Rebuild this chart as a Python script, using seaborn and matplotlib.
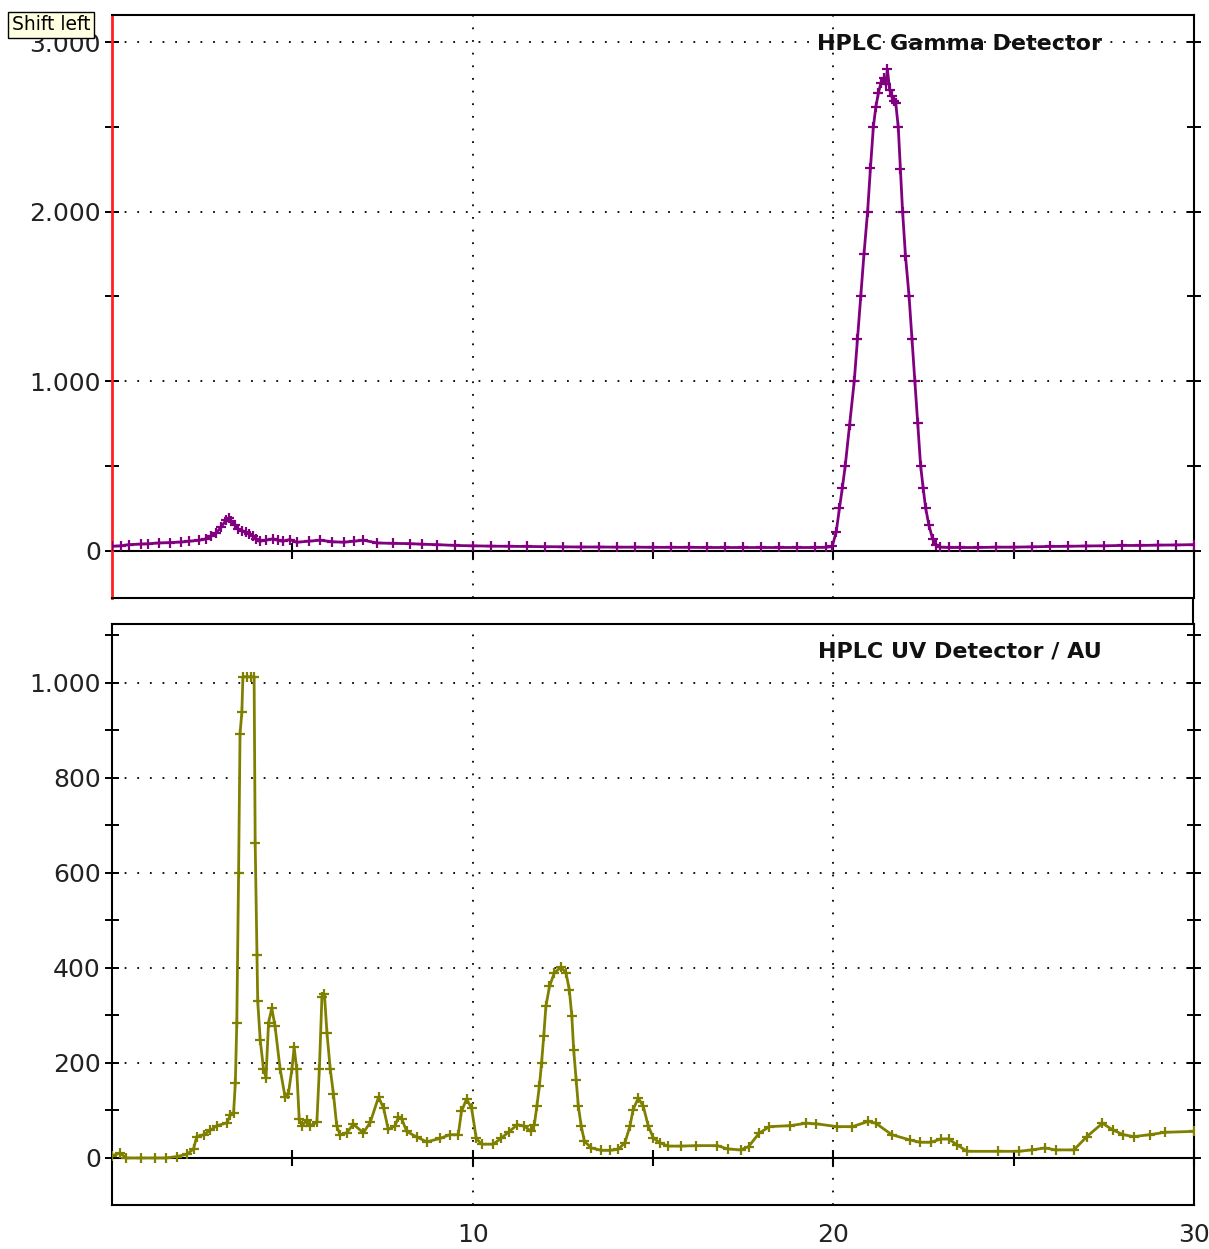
import matplotlib
matplotlib.use("Agg")
import matplotlib.pyplot as plt
import seaborn as sns
import pandas as pd
from matplotlib.ticker import FixedLocator, FuncFormatter
from matplotlib.lines import Line2D

# ---------------- data ----------------
gamma_time = [0.0, 0.25, 0.47, 0.8, 1.0, 1.31, 1.6, 1.9, 2.14, 2.4, 2.61, 2.75, 2.89, 3.03, 3.17,
              3.24, 3.31, 3.4, 3.49, 3.6, 3.72, 3.81, 3.91, 4.0, 4.09, 4.28, 4.47, 4.6, 4.74,
              4.93, 5.12, 5.45, 5.77, 6.1, 6.42, 6.7, 6.97, 7.35, 7.8, 8.27, 8.6, 9.02, 9.5,
              10.0, 10.5, 11.0, 11.5, 12.0, 12.5, 13.0, 13.5, 14.0, 14.5, 15.0, 15.5, 16.0,
              16.5, 17.0, 17.5, 18.0, 18.5, 19.0, 19.5, 19.8, 19.97, 20.08, 20.17, 20.25,
              20.33, 20.45, 20.58, 20.67, 20.76, 20.85, 20.95, 21.03, 21.11, 21.18, 21.25,
              21.32, 21.4, 21.45, 21.5, 21.56, 21.62, 21.68, 21.73, 21.8, 21.86, 21.92,
              22.0, 22.1, 22.18, 22.26, 22.34, 22.42, 22.49, 22.56, 22.65, 22.75, 22.85,
              22.95, 23.2, 23.5, 24.0, 24.5, 25.0, 25.5, 26.0, 26.5, 27.0, 27.5, 28.0, 28.5,
              29.0, 29.5, 30.0]
gamma_counts = [25, 28, 35, 38, 40, 45, 47, 50, 55, 60, 69, 85, 104, 140, 182,
                190, 173, 150, 127, 118, 108, 100, 84, 70, 55, 62, 69, 60, 55,
                65, 49, 55, 61, 52, 49, 55, 61, 45, 42, 41, 37, 35, 30,
                28, 26, 25, 24, 23, 22, 21, 21, 20, 20, 19, 19, 19,
                18, 18, 18, 18, 18, 18, 18, 19, 25, 110, 250, 370,
                500, 740, 1000, 1250, 1500, 1750, 2000, 2260, 2500, 2620, 2700,
                2760, 2790, 2750, 2840, 2720, 2680, 2650, 2640, 2500, 2250, 2000,
                1740, 1500, 1250, 1000, 750, 500, 370, 250, 150, 70, 35,
                20, 18, 18, 18, 20, 20, 22, 24, 25, 27, 28, 30, 30,
                32, 33, 35]

uv_time = [0.0, 0.23, 0.4, 0.8, 1.2, 1.5, 1.8, 2.08, 2.26, 2.35, 2.54, 2.72, 2.91, 3.19,
           3.28, 3.37, 3.42, 3.46, 3.51, 3.55, 3.6, 3.63, 3.75, 3.85, 3.94, 3.97, 4.02,
           4.04, 4.11, 4.2, 4.27, 4.34, 4.43, 4.52, 4.66, 4.8, 4.89, 4.99, 5.05, 5.12,
           5.19, 5.26, 5.4, 5.49, 5.68, 5.75, 5.82, 5.89, 5.96, 6.05, 6.14, 6.23, 6.32,
           6.51, 6.69, 6.97, 7.16, 7.39, 7.53, 7.66, 7.85, 7.94, 8.03, 8.17, 8.45, 8.73,
           9.09, 9.37, 9.6, 9.69, 9.83, 9.97, 10.1, 10.25, 10.57, 10.78, 11.0, 11.24,
           11.43, 11.62, 11.71, 11.78, 11.85, 11.91, 11.97, 12.03, 12.13, 12.26, 12.45,
           12.59, 12.68, 12.75, 12.8, 12.87, 12.93, 13.01, 13.1, 13.29, 13.57, 13.8,
           14.03, 14.22, 14.36, 14.45, 14.59, 14.73, 14.87, 15.01, 15.19, 15.42, 15.79,
           16.2, 16.78, 17.07, 17.43, 17.65, 17.94, 18.23, 18.8, 19.24, 19.52, 20.1,
           20.53, 20.97, 21.18, 21.62, 22.12, 22.41, 22.7, 22.99, 23.2, 23.42, 23.71,
           24.57, 25.15, 25.5, 25.87, 26.16, 26.67, 27.03, 27.46, 27.75, 28.04, 28.33,
           28.77, 29.2, 30.0]
uv_au = [5, 10, 0, 0, 0, 0, 3, 8, 19, 45, 49, 58, 68, 74,
         90, 94, 158, 285, 600, 893, 938, 1013, 1013, 1013, 1013, 664, 428,
         330, 248, 188, 169, 285, 315, 278, 188, 128, 135, 188, 233, 188,
         83, 68, 79, 68, 75, 188, 338, 345, 263, 188, 135, 68, 49,
         53, 71, 53, 75, 128, 105, 60, 68, 86, 83, 56, 44, 34,
         41, 49, 49, 98, 124, 105, 41, 29, 29, 41, 55, 70,
         67, 56, 70, 109, 151, 200, 256, 319, 361, 389, 402,
         389, 354, 298, 228, 165, 109, 67, 35, 21, 16, 16,
         18, 32, 67, 102, 126, 109, 67, 42, 32, 25, 25,
         26, 26, 19, 17, 24, 52, 66, 68, 73, 72, 66,
         66, 77, 73, 49, 38, 33, 33, 40, 40, 28, 14,
         14, 14, 17, 21, 17, 17, 45, 73, 59, 49, 45,
         49, 54, 56]

gamma_yticks = [0, 1000, 2000, 3000]
uv_yticks = [0, 200, 400, 600, 800, 1000]
x_ticks = [10, 20, 30]
panel_titles = ["HPLC Gamma Detector", "HPLC UV Detector / AU"]

# ---------------- styling ----------------
sns.set_style("white")
plt.rcParams["font.family"] = ["DejaVu Sans"]

W, H = 1209, 1249
fig = plt.figure(figsize=(W / 100, H / 100), dpi=100)

def frac(l, t, r, b):
    return [l / W, 1 - b / H, (r - l) / W, (b - t) / H]

ax1 = fig.add_axes(frac(112, 15, 1194, 598))
ax2 = fig.add_axes(frac(112, 624, 1194, 1205))

gdf = pd.DataFrame({"t": gamma_time, "v": gamma_counts})
udf = pd.DataFrame({"t": uv_time, "v": uv_au})

GAMMA_C = "#800080"
UV_C = "#808000"
line_kw = dict(marker="+", markersize=7, markeredgewidth=1.6, linewidth=2.0,
               sort=False, errorbar=None, estimator=None, legend=False)
sns.lineplot(data=gdf, x="t", y="v", ax=ax1, color=GAMMA_C, markeredgecolor=GAMMA_C,
             markerfacecolor=GAMMA_C, zorder=3, **line_kw)
sns.lineplot(data=udf, x="t", y="v", ax=ax2, color=UV_C, markeredgecolor=UV_C,
             markerfacecolor=UV_C, zorder=3, **line_kw)

fmt = FuncFormatter(lambda v, p: f"{int(round(v)):,}".replace(",", "."))

setups = [
    (ax1, (-280, 3160), gamma_yticks, 500),
    (ax2, (-99, 1124), uv_yticks, 100),
]
dot = (0, (1, 6))
for i, (ax, ylim, yt, minor_step) in enumerate(setups):
    ax.set_xlim(0, 30)
    ax.set_ylim(*ylim)
    ax.set_xlabel("")
    ax.set_ylabel("")
    ax.yaxis.set_major_locator(FixedLocator(yt))
    minors = [v for v in range(0, int(ylim[1]) + 1, minor_step) if v not in yt]
    ax.yaxis.set_minor_locator(FixedLocator(minors))
    ax.yaxis.set_major_formatter(fmt)
    ax.set_xticks(x_ticks)
    ax.tick_params(axis="y", which="both", direction="inout", length=10, width=1.4,
                   left=True, right=True, labelleft=True, labelsize=18, colors="black",
                   labelcolor="#222222", pad=3)
    ax.tick_params(axis="x", which="both", length=0, labelsize=18, labelcolor="#222222",
                   pad=13, labelbottom=(i == 1))
    # grid
    for v in yt[1:]:
        ax.axhline(v, color="black", linewidth=1.3, linestyle=dot, zorder=1)
    for v in x_ticks:
        ax.axvline(v, color="black", linewidth=1.3, linestyle=dot, zorder=1)
    for s in ax.spines.values():
        s.set_color("black")
        s.set_linewidth(1.5)
        s.set_visible(True)
    # zero line with its ticks
    loc = -ylim[0] / (ylim[1] - ylim[0])
    sec = ax.secondary_xaxis(loc)
    sec.set_xticks([5, 10, 15, 20, 25, 30])
    sec.set_xticklabels([])
    sec.tick_params(axis="x", direction="inout", length=12, width=1.5, colors="black")
    for name, s in sec.spines.items():
        s.set_linewidth(1.5)
        s.set_color("black")
    ax.text(0.915, 0.95 if i == 0 else 0.952, panel_titles[i], transform=ax.transAxes,
            ha="right", va="center", fontsize=16, fontweight="bold", color="#111111",
            zorder=5)

ax1.spines["left"].set_color("#ff2020")
ax1.spines["left"].set_linewidth(2)

# right edge line spanning the gap between panels
fig.add_artist(Line2D([1193 / W, 1193 / W], [1 - 598 / H, 1 - 624 / H], color="black",
                      linewidth=1.5))

fig.text(12 / W, 1 - 25 / H, "Shift left", fontsize=13.5, ha="left", va="center",
         color="black", zorder=10,
         bbox=dict(boxstyle="square,pad=0.2", facecolor="#ffffe1", edgecolor="black",
                   linewidth=1))

fig.savefig("out.png", dpi=100, facecolor="white")
